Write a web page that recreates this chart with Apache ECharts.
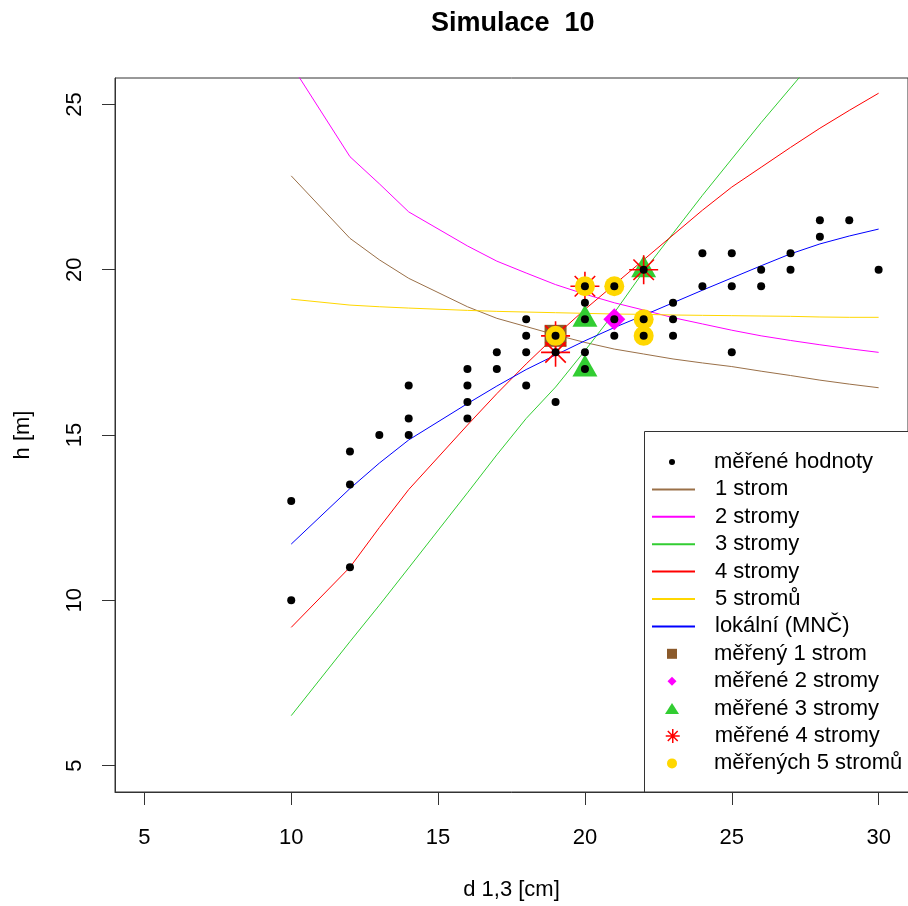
<!DOCTYPE html>
<html><head><meta charset="utf-8">
<script src="https://cdn.jsdelivr.net/npm/echarts@6/dist/echarts.min.js"></script>
<style>html,body{margin:0;padding:0;background:#fff}#c{width:908px;height:906px}</style>
</head><body><div id="c"></div>
<script>
// ---- data ----
const xTicks = [5, 10, 15, 20, 25, 30];
const yTicks = [5, 10, 15, 20, 25];

// measured values (black dots)
const dX = [10,10,12,12,12,13,14,14,14,16,16,16,16,17,17,18,18,18,18,19,19,19,20,20,20,20,20,21,21,21,22,22,22,23,23,23,24,24,25,25,25,26,26,27,27,28,28,29,30];
const dY = [13,10,14.5,13.5,11,15,16.5,15.5,15,17,16.5,16,15.5,17.5,17,18.5,18,17.5,16.5,18,17.5,16,19.5,19,18.5,17.5,17,19.5,18.5,18,20,18.5,18,19,18.5,18,20.5,19.5,20.5,19.5,17.5,20,19.5,20.5,20,21.5,21,21.5,20];

// model curves
const lineX = [10,12,13,14,16,17,18,19,20,21,22,23,24,25,26,27,28,29,30];
const y1strom  = [22.84,20.95,20.3,19.74,18.88,18.53,18.28,18.03,17.8,17.6,17.45,17.3,17.18,17.07,16.93,16.8,16.66,16.54,16.43];
const y2stromy = [26.2,23.42,22.6,21.75,20.72,20.26,19.9,19.55,19.26,19.0,18.78,18.55,18.36,18.17,18.0,17.86,17.73,17.61,17.5];
const y3stromy = [6.51,8.75,9.85,10.98,13.25,14.4,15.5,16.45,17.55,18.7,19.95,21.1,22.25,23.35,24.45,25.5,26.55,27.6,28.65];
const y4stromy = [9.18,11.0,12.2,13.35,15.3,16.25,17.15,18.0,18.8,19.55,20.3,21.05,21.8,22.5,23.1,23.7,24.28,24.82,25.34];
const y5stromu = [19.11,18.93,18.88,18.84,18.77,18.74,18.72,18.7,18.68,18.66,18.65,18.63,18.62,18.61,18.6,18.59,18.57,18.56,18.56];
const yLokal   = [11.7,13.38,14.15,14.85,15.95,16.48,16.98,17.42,17.85,18.25,18.62,19.0,19.38,19.75,20.12,20.48,20.78,21.02,21.23];

// measured trees used by each model
const m1X = [19], m1Y = [18];
const m2X = [21], m2Y = [18.5];
const m3X = [20, 20, 22], m3Y = [18.5, 17, 20];
const m4X = [19, 19, 20, 22], m4Y = [18, 17.5, 19.5, 20];
const m5X = [19, 20, 21, 22, 22], m5Y = [18, 19.5, 19.5, 18.5, 18];

const names = ['měřené hodnoty','1 strom','2 stromy','3 stromy','4 stromy','5 stromů','lokální (MNČ)',
  'měřený 1 strom','měřené 2 stromy','měřené 3 stromy','měřené 4 stromy','měřených 5 stromů'];

// ---- build ----
const FF = '"Liberation Sans", Arial, sans-serif';
const zip = (xs, ys) => xs.map((x, i) => [x, ys[i]]);
const STAR = 'path://M0,-10L0,10M-10,0L10,0M-7.07,-7.07L7.07,7.07M-7.07,7.07L7.07,-7.07';

const C = {brown:'#8B5A2B', brownLine:'#9A7048', mag:'#FF00FF', green:'#32CD32', red:'#FF0000', gold:'#FFD700', blue:'#0000FF'};

function lineSeries(name, ys, color) {
  return {name, type:'line', data: zip(lineX, ys), symbol:'none', showSymbol:false, smooth:false,
    clip:true, lineStyle:{color, width:1}, itemStyle:{color}, z:2, animation:false};
}
function pts(name, xs, ys, symbol, size, itemStyle, extra) {
  return Object.assign({name, type:'scatter', data:zip(xs, ys), symbol, symbolSize:size,
    itemStyle:Object.assign({opacity:1}, itemStyle), z:3, animation:false}, extra || {});
}

const series = [
  lineSeries(names[1], y1strom, C.brownLine),
  lineSeries(names[2], y2stromy, C.mag),
  lineSeries(names[3], y3stromy, C.green),
  lineSeries(names[4], y4stromy, C.red),
  lineSeries(names[5], y5stromu, C.gold),
  lineSeries(names[6], yLokal, C.blue),
  pts(names[7], m1X, m1Y, 'rect', 22, {color:C.brown}),
  pts(names[8], m2X, m2Y, 'diamond', 22, {color:C.mag}),
  pts(names[9], m3X, m3Y, 'triangle', [25,22], {color:C.green}, {symbolOffset:[0,-3.5]}),
  pts(names[10], m4X, m4Y, STAR, 29, {color:'transparent', borderColor:C.red, borderWidth:1.6}),
  pts(names[11], m5X, m5Y, 'circle', 20, {color:C.gold}),
  pts(names[0], dX, dY, 'circle', 8, {color:'#000'}, {z:4})
];

const rowH = 27.4, row0 = 462, iconC = 672, textX = 714;
const textStyle = {fontFamily:FF, fontSize:22, color:'#000', lineHeight:rowH};
function symLegend(row, w, h, data) {
  return {orient:'vertical', left: iconC - w/2, top: row0 + row*rowH - rowH/2, padding:0,
    itemWidth:w, itemHeight:h, itemGap:0, selectedMode:false, z:6, itemStyle:{opacity:1},
    textStyle: Object.assign({}, textStyle, {padding:[0,0,0, textX - (iconC + w/2 + 5)]}), data};
}
const legend = [
  symLegend(0, 6, 6, [names[0]]),
  {orient:'vertical', left:651, top: row0 + rowH - rowH/2, padding:0, itemWidth:43, itemHeight:1, itemGap:0,
    selectedMode:false, z:6, itemStyle:{opacity:0},
    textStyle: Object.assign({}, textStyle, {padding:[0,0,0,15]}), data:names.slice(1,7)},
  symLegend(7, 10, 10, [names[7]]),
  symLegend(8, 9, 9, [names[8]]),
  symLegend(9, 14, 11, [names[9]]),
  symLegend(10, 14, 14, [{name:names[10], itemStyle:{color:'transparent', borderColor:C.red, borderWidth:1.5, opacity:1}}]),
  symLegend(11, 10, 10, [names[11]])
];

const axisCommon = {
  axisLine:{show:true, lineStyle:{color:'#333', width:1}},
  splitLine:{show:false},
};

const option = {
  backgroundColor:'#fff',
  animation:false,
  title:{text:'Simulace  10', left:431, top:10, padding:0,
    textStyle:{fontFamily:FF, fontSize:27, fontWeight:'bold', color:'#000'}},
  grid:{left:115, top:78, width:797, height:714, show:true, borderColor:'#333', borderWidth:1, containLabel:false},
  xAxis:Object.assign({}, axisCommon, {type:'value', min:4, max:31,
    axisTick:{show:true, length:13, lineStyle:{color:'#333'}, customValues:xTicks},
    axisLabel:{customValues:xTicks, margin:35, fontSize:22, fontFamily:FF, color:'#000'},
    name:'d 1,3 [cm]', nameLocation:'middle', nameGap:87,
    nameTextStyle:{fontSize:22, fontFamily:FF, color:'#000'}}),
  yAxis:Object.assign({}, axisCommon, {type:'value', min:4.2, max:25.8,
    axisTick:{show:true, length:13, lineStyle:{color:'#333'}, customValues:yTicks},
    axisLabel:{customValues:yTicks, rotate:90, margin:29, fontSize:22, fontFamily:FF, color:'#000'},
    name:'h [m]', nameLocation:'middle', nameGap:81, nameRotate:90,
    nameTextStyle:{fontSize:22, fontFamily:FF, color:'#000'}}),
  legend,
  graphic:[{type:'rect', z:5, shape:{x:644.5, y:431.5, width:300, height:360.5},
    style:{fill:'#fff', stroke:'#333', lineWidth:1}}],
  series
};

const chart = echarts.init(document.getElementById('c'), null, {renderer:'canvas'});
chart.setOption(option);
</script>
</body></html>
